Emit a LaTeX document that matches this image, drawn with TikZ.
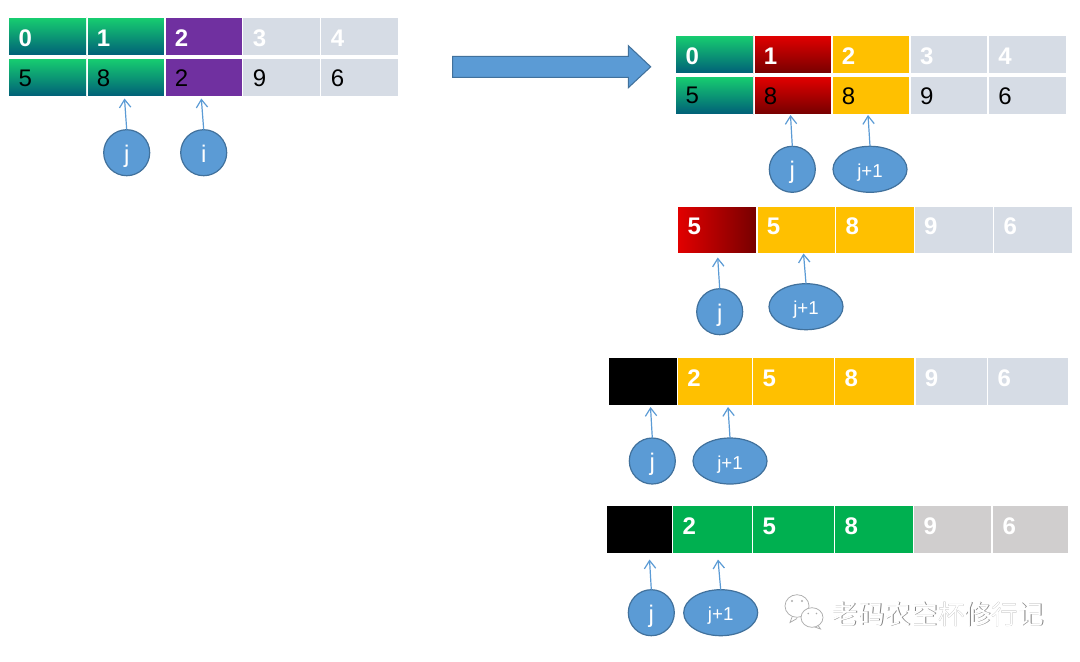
\documentclass[tikz,border=0pt]{standalone}
\usepackage{fontspec}
\setmainfont{Liberation Sans}
\newfontfamily\cjkwm{Noto Sans CJK SC}
\usetikzlibrary{shapes.geometric,arrows.meta}
\definecolor{gA}{HTML}{17CE70}
\definecolor{gB}{HTML}{005F78}
\definecolor{rA}{HTML}{E20000}
\definecolor{rB}{HTML}{760000}
\definecolor{gold}{HTML}{FFC000}
\definecolor{purp}{HTML}{7030A0}
\definecolor{pale}{HTML}{D6DCE5}
\definecolor{grn}{HTML}{00B050}
\definecolor{gry}{HTML}{D0CECE}
\definecolor{blu}{HTML}{5B9BD5}
\definecolor{bluD}{HTML}{41719C}
\tikzset{
  fgreen/.style={top color=gA,bottom color=gB},
  fred/.style={top color=rA,bottom color=rB},
  fredh/.style={left color=rA,right color=rB},
  fgold/.style={fill=gold},
  fpurp/.style={fill=purp},
  fpale/.style={fill=pale},
  fgrn/.style={fill=grn},
  fgry/.style={fill=gry},
  fblack/.style={fill=black},
  hd/.style={inner sep=0pt,anchor=west,text=white,font=\fontsize{18}{18}\selectfont\bfseries},
  vl/.style={inner sep=0pt,anchor=west,text=black,font=\fontsize{18}{18}\selectfont},
  ptr/.style={circle,draw=bluD,fill=blu,line width=0.9pt,inner sep=0pt,outer sep=0pt,minimum size=34.5pt,text=white,font=\fontsize{18}{18}\selectfont},
  ptrw/.style={ellipse,draw=bluD,fill=blu,line width=0.9pt,inner sep=0pt,outer sep=0pt,minimum width=55.5pt,minimum height=34.5pt,text=white,font=\fontsize{14}{14}\selectfont},
  link/.style={draw=blu,line width=0.9pt,-{Straight Barb[length=6pt,width=8.5pt]}},
  wmbub/.style={fill=white,draw=black!32,line width=0.55pt},
}
% name, x0, y0, x1, y1, fill, text style, text, text dy
\newcommand{\cellat}[9]{%
  \path[#6] (#2,#3) rectangle (#4,#5);
  \draw[white,line width=0.6pt] (#2,#3) rectangle (#4,#5);
  \node[#7] (#1) at ({#2+9.7},{(#3+#5)/2+#9}) {#8};
}
\newcommand{\ptxt}[1]{\raisebox{-7pt}[0pt][0pt]{#1}}
\newcommand{\ptxw}[1]{\raisebox{-6pt}[0pt][0pt]{#1}}
\begin{document}
\begin{tikzpicture}[x=0.75pt,y=-0.75pt]
\useasboundingbox (0,0) rectangle (1080,661);
\fill[white] (0,0) rectangle (1080,661);
% table 1
\cellat{a0}{8.7}{17.7}{86.7}{55.3}{fgreen}{hd}{0}{1.5}
\cellat{a1}{86.9}{17.7}{164.7}{55.3}{fgreen}{hd}{1}{1.5}
\cellat{a2}{164.9}{17.7}{242.6}{55.3}{fpurp}{hd}{2}{1.5}
\cellat{a3}{242.8}{17.7}{320.6}{55.3}{fpale}{hd}{3}{1.5}
\cellat{a4}{320.8}{17.7}{398.6}{55.3}{fpale}{hd}{4}{1.5}
\cellat{b0}{8.7}{58.5}{86.7}{96.3}{fgreen}{vl}{5}{1}
\cellat{b1}{86.9}{58.5}{164.7}{96.3}{fgreen}{vl}{8}{1}
\cellat{b2}{164.9}{58.5}{242.6}{96.3}{fpurp}{vl}{2}{1}
\cellat{b3}{242.8}{58.5}{320.6}{96.3}{fpale}{vl}{9}{1}
\cellat{b4}{320.8}{58.5}{398.6}{96.3}{fpale}{vl}{6}{1}
\node[ptr] (p1) at (126.7,152.7) {\ptxt{j}};
\node[ptr] (p2) at (203.7,152.7) {\ptxt{i}};
\coordinate (t1) at (124.5,98.5);
\coordinate (t2) at (201.3,98.5);
\draw[link] (p1.north) -- (t1);
\draw[link] (p2.north) -- (t2);
% big arrow
\draw[fill=blu,draw=bluD,line width=0.8pt] (452.7,56.3) -- (628.3,56.3) -- (628.3,45.7) -- (650.7,66.8) -- (628.3,87.7) -- (628.3,77.3) -- (452.7,77.3) -- cycle;
% table 2
\cellat{c0}{675.7}{35.4}{753.3}{73.6}{fgreen}{hd}{0}{1.5}
\cellat{c1}{753.9}{35.4}{831.4}{73.6}{fred}{hd}{1}{1.5}
\cellat{c2}{831.9}{35.4}{909.5}{73.6}{fgold}{hd}{2}{1.5}
\cellat{c3}{910.2}{35.4}{987.8}{73.6}{fpale}{hd}{3}{1.5}
\cellat{c4}{988.5}{35.4}{1066}{73.6}{fpale}{hd}{4}{1.5}
\cellat{d0}{675.7}{76.7}{753.3}{114}{fgreen}{vl}{5}{0.5}
\cellat{d1}{753.9}{76.7}{831.4}{114}{fred}{vl}{8}{0.5}
\cellat{d2}{831.9}{76.7}{909.5}{114}{fgold}{vl}{8}{0.5}
\cellat{d3}{910.2}{76.7}{987.8}{114}{fpale}{vl}{9}{0.5}
\cellat{d4}{988.5}{76.7}{1066}{114}{fpale}{vl}{6}{0.5}
\node[ptr] (p3) at (792.3,169.3) {\ptxt{j}};
\node[ptrw] (p4) at (870,169.3) {\ptxw{j+1}};
\coordinate (t3) at (790.5,115);
\coordinate (t4) at (868,115);
\draw[link] (p3.north) -- (t3);
\draw[link] (p4.north) -- (t4);
% table 3
\cellat{e0}{677.7}{206}{756.5}{253}{fredh}{hd}{5}{-3}
\cellat{e1}{756.9}{206}{835.4}{253}{fgold}{hd}{5}{-3}
\cellat{e2}{835.7}{206}{913.9}{253}{fgold}{hd}{8}{-3}
\cellat{e3}{914.2}{206}{993.4}{253}{fpale}{hd}{9}{-3}
\cellat{e4}{993.7}{206}{1072}{253}{fpale}{hd}{6}{-3}
\node[ptr] (p5) at (719.7,311.7) {\ptxt{j}};
\node[ptrw] (p6) at (806,306.7) {\ptxw{j+1}};
\coordinate (t5) at (717.7,257.5);
\coordinate (t6) at (803.5,253.5);
\draw[link] (p5.north) -- (t5);
\draw[link] (p6.north) -- (t6);
% table 4
\path[fblack] (609.3,357.7) rectangle (677,405);
\cellat{f1}{677.3}{357.4}{752.4}{405.3}{fgold}{hd}{2}{-3}
\cellat{f2}{752.7}{357.4}{834.2}{405.3}{fgold}{hd}{5}{-3}
\cellat{f3}{834.6}{357.4}{914.5}{405.3}{fgold}{hd}{8}{-3}
\cellat{f4}{914.9}{357.4}{987.4}{405.3}{fpale}{hd}{9}{-3}
\cellat{f5}{987.7}{357.4}{1068.6}{405.3}{fpale}{hd}{6}{-3}
\node[ptr] (p7) at (652.3,461) {\ptxt{j}};
\node[ptrw] (p8) at (730,461) {\ptxw{j+1}};
\coordinate (t7) at (650.5,407);
\coordinate (t8) at (728,407);
\draw[link] (p7.north) -- (t7);
\draw[link] (p8.north) -- (t8);
% table 5
\path[fblack] (607,506) rectangle (672,552.7);
\cellat{g1}{672.7}{505.7}{752.4}{553}{fgrn}{hd}{2}{-2.8}
\cellat{g2}{752.7}{505.7}{834.2}{553}{fgrn}{hd}{5}{-2.8}
\cellat{g3}{834.6}{505.7}{913.4}{553}{fgrn}{hd}{8}{-2.8}
\cellat{g4}{913.7}{505.7}{991.8}{553}{fgry}{hd}{9}{-2.8}
\cellat{g5}{992.6}{505.7}{1068.6}{553}{fgry}{hd}{6}{-2.8}
\node[ptr] (p9) at (651.3,612.7) {\ptxt{j}};
\node[ptrw] (p10) at (720.7,612.7) {\ptxw{j+1}};
\coordinate (t9) at (649.5,559.5);
\coordinate (t10) at (718,559.5);
\draw[link] (p9.north) -- (t9);
\draw[link] (p10.north) -- (t10);
% watermark icon
\draw[wmbub] (792,617) -- (790,622.5) -- (797,618.5);
\draw[wmbub] (797,606) ellipse [x radius=12,y radius=11.3];
\fill[black!32] (792,601) circle [radius=1.1] (802,601) circle [radius=1.1];
\draw[wmbub] (817,624) -- (820.5,629) -- (812,626);
\draw[wmbub] (812,617.5) ellipse [x radius=11,y radius=9.8];
\fill[black!32] (808.3,613.5) circle [radius=0.9] (816.5,613.5) circle [radius=0.9];
% watermark text
\node[inner sep=0pt,text=black!50,font=\cjkwm\fontsize{19.9}{20}\selectfont] (wmS) at (938.7,614.7) {老码农空杯修行记};
\node[inner sep=0pt,text=white,font=\cjkwm\fontsize{19.9}{20}\selectfont] (wm) at (938,614) {老码农空杯修行记};
\end{tikzpicture}
\end{document}
